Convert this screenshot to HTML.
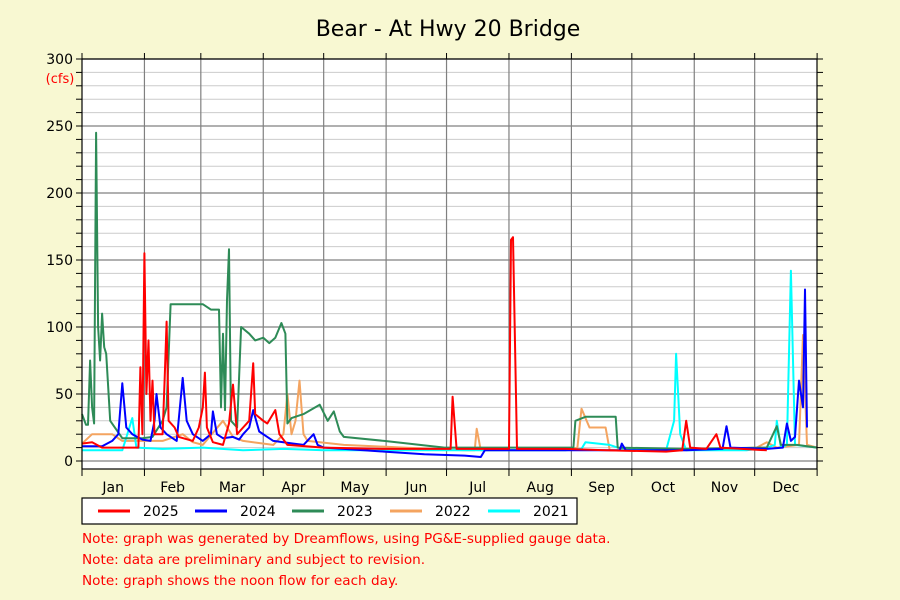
<!DOCTYPE html>
<html><head><meta charset="utf-8"><style>
body{margin:0;background:#f8f8d2;font-family:"DejaVu Sans","Liberation Sans",sans-serif}
svg{display:block}
</style></head><body>
<svg id="s" width="900" height="600" xmlns="http://www.w3.org/2000/svg" font-family="DejaVu Sans, Liberation Sans, sans-serif">
<rect width="900" height="600" fill="#f8f8d2"/>
<rect x="82" y="59" width="735" height="410" fill="#fff"/>
<g id="grid"></g>
<g id="data" fill="none" stroke-width="2" stroke-linejoin="round"></g>
<rect x="82" y="59" width="735" height="410" fill="none" stroke="#000" stroke-width="1.2"/>
<g id="ax"></g>
<text x="448" y="36" font-size="22" text-anchor="middle" fill="#000">Bear - At Hwy 20 Bridge</text>
<text x="60" y="83" font-size="13" text-anchor="middle" fill="#f00">(cfs)</text>
<rect x="82" y="498" width="495" height="26" fill="#fff" stroke="#000" stroke-width="1.2"/>
<g id="leg" font-size="14"></g>
<g font-size="13.6" fill="#f00">
<text x="82" y="543">Note: graph was generated by Dreamflows, using PG&amp;E-supplied gauge data.</text>
<text x="82" y="564">Note: data are preliminary and subject to revision.</text>
<text x="82" y="585">Note: graph shows the noon flow for each day.</text>
</g>
</svg>
<script>
const NS="http://www.w3.org/2000/svg";
function el(p,t,a,txt){const e=document.createElementNS(NS,t);for(const k in a)e.setAttribute(k,a[k]);if(txt!==undefined)e.textContent=txt;document.getElementById(p).appendChild(e);return e;}
const X=d=>82+d*2.014, Y=v=>461-v*1.34;
for(let v=0;v<=300;v+=10){const y=Y(v);
 if(v%50){el('grid','line',{x1:82,x2:817,y1:y,y2:y,stroke:'#ccc','stroke-width':1});}
 else{el('grid','line',{x1:82,x2:817,y1:y,y2:y,stroke:'#808080','stroke-width':1.2});
  el('ax','text',{x:73,y:y+5,'font-size':14,'text-anchor':'end'},String(v));}
 el('ax','line',{x1:76,x2:82,y1:y,y2:y,stroke:'#000'});
 el('ax','line',{x1:817,x2:823,y1:y,y2:y,stroke:'#000'});
}
const md=[0,31,59,90,120,151,181,212,243,273,304,334,365],mn=['Jan','Feb','Mar','Apr','May','Jun','Jul','Aug','Sep','Oct','Nov','Dec'];
md.forEach((d,i)=>{const x=X(d);
 if(i>0&&i<12)el('grid','line',{x1:x,x2:x,y1:59,y2:469,stroke:'#808080','stroke-width':1.2});
 el('ax','line',{x1:x,x2:x,y1:469,y2:476,stroke:'#000'});
 el('ax','line',{x1:x,x2:x,y1:53,y2:59,stroke:'#000'});
 if(i<12)el('ax','text',{x:X((d+md[i+1])/2),y:492,'font-size':14,'text-anchor':'middle'},mn[i]);
});
const S=[
['#f4a460',[[0,13],[5,20],[15,20],[20,15],[30,15],[40,15],[50,20],[55,14],[60,12],[70,30],[75,18],[80,15],[95,12],[100,20],[102,50],[104,20],[106,30],[108,60],[110,20],[112,15],[130,12],[160,10],[190,8],[195,8],[196,24],[198,8],[240,8],[246,10],[248,39],[252,25],[260,25],[262,8],[300,8],[335,10],[340,14],[345,10],[356,12],[358,94],[360,12],[365,10]]],
['#00ffff',[[0,8],[20,8],[25,32],[27,10],[40,9],[60,10],[80,8],[100,9],[120,8],[240,8],[248,9],[250,14],[262,12],[268,9],[290,8],[294,30],[295,80],[297,20],[300,8],[330,8],[340,10],[344,12],[345,30],[347,10],[350,12],[352,142],[354,12],[365,10]]],
['#2e8b57',[[0,35],[2,27],[3,27],[4,75],[5,40],[6,28],[7,245],[8,100],[9,75],[10,110],[11,85],[12,80],[14,30],[20,17],[30,17],[35,18],[40,30],[42,40],[44,117],[55,117],[60,117],[64,113],[68,113],[69,40],[70,95],[71,38],[72,120],[73,158],[74,30],[77,25],[79,100],[83,95],[86,90],[90,92],[93,88],[96,92],[99,103],[101,95],[102,28],[104,32],[110,35],[118,42],[122,30],[125,37],[128,22],[130,18],[150,15],[180,10],[210,10],[240,10],[244,10],[245,30],[250,33],[265,33],[266,10],[300,9],[340,10],[345,26],[347,12],[355,12],[365,10]]],
['#0000ff',[[0,11],[10,11],[15,15],[18,20],[20,58],[22,25],[25,20],[30,16],[34,15],[36,30],[37,50],[39,25],[42,20],[47,15],[50,62],[52,30],[55,20],[60,15],[64,20],[65,37],[67,20],[70,17],[75,18],[78,16],[80,20],[83,25],[85,38],[88,22],[92,18],[95,15],[105,13],[110,12],[115,20],[117,12],[120,10],[130,9],[150,7],[170,5],[190,4],[198,3],[200,8],[230,8],[260,8],[267,8],[268,13],[270,8],[300,8],[318,9],[320,26],[322,10],[340,9],[348,10],[350,28],[352,15],[354,18],[356,60],[358,40],[359,128],[360,25]]],
['#ff0000',[[0,13],[5,14],[10,10],[28,10],[29,70],[30,20],[31,155],[32,50],[33,90],[34,30],[35,60],[36,20],[40,20],[41,60],[42,104],[43,30],[46,25],[48,18],[55,15],[58,25],[60,40],[61,66],[62,25],[65,14],[70,12],[73,28],[75,57],[77,20],[80,25],[83,30],[85,73],[86,35],[90,30],[92,28],[96,38],[98,20],[102,12],[120,10],[150,9],[180,9],[183,9],[184,48],[186,9],[210,9],[212,9],[213,165],[214,167],[216,9],[240,9],[260,8],[290,7],[298,8],[300,30],[302,10],[310,9],[315,20],[317,10],[340,8]]]
];
S.forEach(([c,p])=>el('data','polyline',{stroke:c,points:p.map(q=>X(q[0]).toFixed(1)+','+Y(q[1]).toFixed(1)).join(' ')}));
[['#ff0000','2025',98],['#0000ff','2024',195],['#2e8b57','2023',292],['#f4a460','2022',390],['#00ffff','2021',488]].forEach(([c,t,x])=>{
 el('leg','line',{x1:x,x2:x+32,y1:511,y2:511,stroke:c,'stroke-width':3});
 el('leg','text',{x:x+45,y:516},t);
});
</script>
</body></html>
